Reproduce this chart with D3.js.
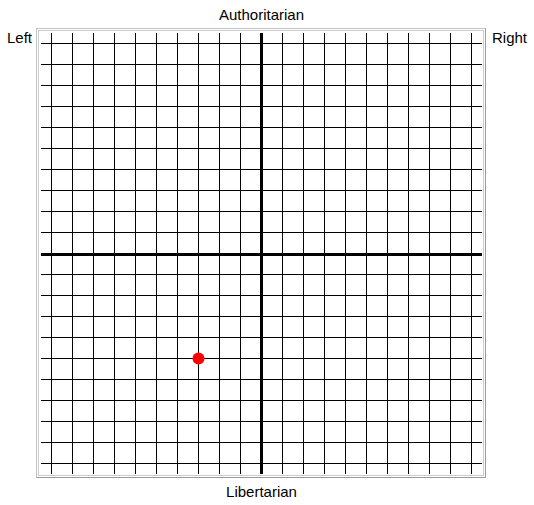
<!DOCTYPE html>
<html>
<head>
<meta charset="utf-8">
<script src="https://cdn.jsdelivr.net/npm/d3@7"></script>
<style>
    body { margin: 0; background: #fff; }
    svg text { font-family: "Liberation Sans", Arial, sans-serif; font-size: 15px; fill: #000; }
</style>
</head>
<body>
<svg id="chart" width="534" height="505"></svg>
<script>
// Grid steps on both axes (economic left/right, social authoritarian/libertarian)
const gridValues = [-10, -9, -8, -7, -6, -5, -4, -3, -2, -1, 0, 1, 2, 3, 4, 5, 6, 7, 8, 9, 10];
const axisLabels = { top: "Authoritarian", bottom: "Libertarian", left: "Left", right: "Right" };

// The plotted position
const economic = [-3];
const social = [-5];

const svg = d3.select("#chart");

const x = d3.scaleLinear().domain([-10.5, 10.5]).range([41, 482]);
const y = d3.scaleLinear().domain([-10.5, 10.5]).range([474, 33]);

// Double frame round the grid
svg.append("rect")
   .attr("x", 36.5).attr("y", 28.5)
   .attr("width", 449).attr("height", 449)
   .style("fill", "none")
   .style("stroke", "#c4c4c4");

svg.append("path")
   .attr("d", "M485.5,28.5V477.5H36.5")
   .style("fill", "none")
   .style("stroke", "#9a9a9a");

svg.append("rect")
   .attr("x", 38.5).attr("y", 30.5)
   .attr("width", 445).attr("height", 445)
   .style("fill", "#fff")
   .style("stroke", "#cccccc");

const grid = svg.append("g")
                .attr("class", "grid")
                .style("shape-rendering", "crispEdges");

grid.selectAll(".v-line")
    .data(gridValues.filter(d => d !== 0))
    .enter()
    .append("line")
    .attr("class", "v-line")
    .attr("x1", d => x(d)).attr("x2", d => x(d))
    .attr("y1", y.range()[1]).attr("y2", y.range()[0])
    .style("stroke", "#000")
    .style("stroke-width", 1);

grid.selectAll(".h-line")
    .data(gridValues.filter(d => d !== 0))
    .enter()
    .append("line")
    .attr("class", "h-line")
    .attr("y1", d => y(d)).attr("y2", d => y(d))
    .attr("x1", x.range()[0]).attr("x2", x.range()[1])
    .style("stroke", "#000")
    .style("stroke-width", 1);

// Thick centre axes
grid.append("line")
    .attr("x1", x(0)).attr("x2", x(0))
    .attr("y1", y.range()[1]).attr("y2", y.range()[0])
    .style("stroke", "#000")
    .style("stroke-width", 3);

grid.append("line")
    .attr("y1", y(0) + 0.5).attr("y2", y(0) + 0.5)
    .attr("x1", x.range()[0]).attr("x2", x.range()[1])
    .style("stroke", "#000")
    .style("stroke-width", 3);

svg.selectAll(".point")
   .data(economic.map((d, i) => ({ econ: d, soc: social[i] })))
   .enter()
   .append("circle")
   .attr("class", "point")
   .attr("cx", d => x(d.econ))
   .attr("cy", d => y(d.soc))
   .attr("r", 6)
   .style("fill", "#ff0000");

// Quadrant labels
svg.append("text")
   .attr("x", x(0)).attr("y", 20)
   .attr("text-anchor", "middle")
   .text(axisLabels.top);

svg.append("text")
   .attr("x", x(0)).attr("y", 497)
   .attr("text-anchor", "middle")
   .text(axisLabels.bottom);

svg.append("text")
   .attr("x", 7).attr("y", 43)
   .text(axisLabels.left);

svg.append("text")
   .attr("x", 492).attr("y", 43)
   .text(axisLabels.right);
</script>
</body>
</html>
